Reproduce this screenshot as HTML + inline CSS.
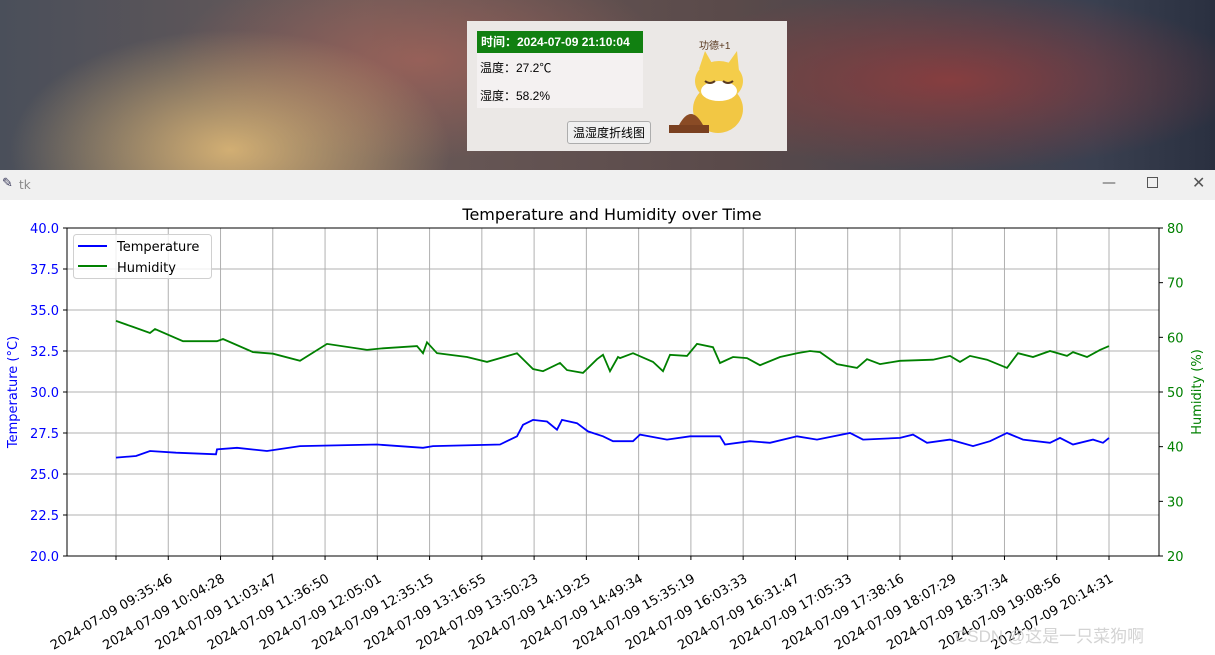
<!DOCTYPE html>
<html><head><meta charset="utf-8"><style>
body{margin:0;width:1215px;height:655px;overflow:hidden;position:relative;font-family:"DejaVu Sans","Liberation Sans","Noto Sans CJK SC",sans-serif;background:#fff}
#bg{position:absolute;left:0;top:0;width:1215px;height:170px;background:
radial-gradient(ellipse 220px 120px at 230px 150px,rgba(230,190,120,.85),transparent),
radial-gradient(ellipse 300px 90px at 950px 80px,rgba(150,60,60,.8),transparent),
radial-gradient(ellipse 250px 100px at 420px 60px,rgba(170,100,90,.7),transparent),
linear-gradient(90deg,#4a4f5a,#6a5a58 30%,#5a4a4a 60%,#3a4050 90%,#2a3040)}
#widget{position:absolute;left:467px;top:21px;width:320px;height:130px;background:#ebe8e6}
#tb{position:absolute;left:0;top:170px;width:1215px;height:30px;background:#f0f0f0}
</style></head><body>
<div id="bg"></div>
<div id="widget">
 <div style="position:absolute;left:10px;top:10px;width:166px;height:77px;background:#f4f1f1"></div>
 <div style="position:absolute;left:10px;top:10px;width:166px;height:22px;background:#118011;color:#fff;font-weight:bold;font-size:12px;line-height:22px;padding-left:4px;box-sizing:border-box;font-family:'Liberation Sans','Noto Sans CJK SC',sans-serif">时间：2024-07-09 21:10:04</div>
 <div style="position:absolute;left:13px;top:38px;font-size:12px;font-family:'Liberation Sans','Noto Sans CJK SC',sans-serif">温度：27.2℃</div>
 <div style="position:absolute;left:13px;top:66px;font-size:12px;font-family:'Liberation Sans','Noto Sans CJK SC',sans-serif">湿度：58.2%</div>
 <div style="position:absolute;left:100px;top:100px;width:84px;height:23px;border:1px solid #adadad;border-radius:3px;background:#f0f0f0;font-size:12px;line-height:23px;text-align:center;box-sizing:border-box;font-family:'Liberation Sans','Noto Sans CJK SC',sans-serif">温湿度折线图</div>
 <div style="position:absolute;left:232px;top:16px;font-size:10px;color:#5a3a20;font-family:'Liberation Sans','Noto Sans CJK SC',sans-serif">功德+1</div>
 <svg style="position:absolute;left:196px;top:28px" width="90" height="86">
  <ellipse cx="55" cy="60" rx="25" ry="24" fill="#f2c744"/>
  <ellipse cx="56" cy="32" rx="24" ry="20" fill="#f4cd4a"/>
  <polygon points="36,20 42,2 50,16" fill="#f4cd4a"/><polygon points="64,16 74,2 76,22" fill="#f4cd4a"/>
  <ellipse cx="56" cy="42" rx="18" ry="10" fill="#fff"/>
  <path d="M42 32 q5 4 10 0 M60 32 q5 4 10 0" stroke="#5a3a20" fill="none" stroke-width="2"/>
  <path d="M16 76 q12 -22 24 0 z" fill="#8a4b25"/><rect x="6" y="76" width="40" height="8" fill="#7a4020"/>
 </svg>
</div>
<div id="tb">
 <span style="position:absolute;left:2px;top:6px;font-size:13px;color:#335">✎</span>
 <span style="position:absolute;left:19px;top:8px;font-size:12px;color:#888">tk</span>
 <span style="position:absolute;left:1102px;top:5px;font-size:14px;color:#555">—</span>
 <span style="position:absolute;left:1147px;top:7px;width:9px;height:9px;border:1px solid #555"></span>
 <span style="position:absolute;left:1192px;top:3px;font-size:16px;color:#555">✕</span>
</div>
<svg id="chart" style="position:absolute;left:0;top:0" width="1215" height="655"></svg>
<div style="position:absolute;left:955px;top:622px;font-size:17px;color:rgba(200,200,200,.8);font-family:'Liberation Sans','Noto Sans CJK SC',sans-serif">CSDN @这是一只菜狗啊</div>
<script>
const tickLabels=["2024-07-09 09:35:46","2024-07-09 10:04:28","2024-07-09 11:03:47","2024-07-09 11:36:50","2024-07-09 12:05:01","2024-07-09 12:35:15","2024-07-09 13:16:55","2024-07-09 13:50:23","2024-07-09 14:19:25","2024-07-09 14:49:34","2024-07-09 15:35:19","2024-07-09 16:03:33","2024-07-09 16:31:47","2024-07-09 17:05:33","2024-07-09 17:38:16","2024-07-09 18:07:29","2024-07-09 18:37:34","2024-07-09 19:08:56","2024-07-09 20:14:31"];
const leftTicks=[20.0,22.5,25.0,27.5,30.0,32.5,35.0,37.5,40.0];
const rightTicks=[20,30,40,50,60,70,80];
const tempIdx=[0,20,34,60,100,101,121,151,184,261,307,317,384,401,407,417,431,441,446,461,472,487,497,517,524,551,574,604,609,634,654,681,701,734,747,784,797,811,834,857,874,891,907,934,944,957,977,987,993];
const tempVal=[26.0,26.1,26.4,26.3,26.2,26.5,26.6,26.4,26.7,26.8,26.6,26.7,26.8,27.3,28.0,28.3,28.2,27.7,28.3,28.1,27.6,27.3,27.0,27.0,27.4,27.1,27.3,27.3,26.8,27.0,26.9,27.3,27.1,27.5,27.1,27.2,27.4,26.9,27.1,26.7,27.0,27.5,27.1,26.9,27.2,26.8,27.1,26.9,27.2];
const humIdx=[0,17,34,39,67,101,107,137,157,184,211,251,267,301,307,311,321,351,371,401,417,427,444,451,467,481,487,494,502,504,517,537,547,554,571,581,597,604,617,631,644,664,681,694,704,721,741,751,764,784,817,834,844,854,871,891,902,917,934,951,957,971,984,993];
const humVal=[63.0,61.9,60.8,61.5,59.3,59.3,59.7,57.3,57.0,55.7,58.8,57.7,58.0,58.4,57.1,59.1,57.1,56.4,55.5,57.1,54.2,53.8,55.3,54.0,53.5,56.0,56.8,53.8,56.4,56.2,57.1,55.5,53.8,56.8,56.6,58.8,58.2,55.3,56.4,56.2,54.9,56.4,57.1,57.5,57.3,55.1,54.4,56.0,55.1,55.7,55.9,56.6,55.5,56.6,55.9,54.4,57.1,56.4,57.5,56.6,57.3,56.4,57.7,58.4];
const svg=document.getElementById('chart');const NS='http://www.w3.org/2000/svg';
const L=67,R=1159,T=228,B=556,X0=116,X1=1109,NMAX=993;
const NT=tickLabels.length+1;
const xIdx=i=>X0+(X1-X0)*i/NMAX;
const xTick=i=>X0+(X1-X0)*i/(NT-1);
const yL=v=>B-(v-20)/20*(B-T);
const yR=v=>B-(v-20)/60*(B-T);
function mk(t,a,txt){const e=document.createElementNS(NS,t);for(const k in a)e.setAttribute(k,a[k]);if(txt!==undefined)e.textContent=txt;svg.appendChild(e);return e;}
let e;
e=mk('text',{x:612,y:220,'text-anchor':'middle','font-size':16,fill:'#000'},'Temperature and Humidity over Time');


for(let i=0;i<NT;i++){const x=xTick(i);
 e=mk('line',{x1:x,x2:x,y1:T,y2:B,stroke:'#b0b0b0','stroke-width':1});
 
 
 e=mk('line',{x1:x,x2:x,y1:B,y2:B+4,stroke:'#000'});
 
 
}
tickLabels.forEach((t,i)=>{const x=xTick(i+1)+5,y=581;
 e=mk('text',{x:x,y:y,'text-anchor':'end','font-size':13,fill:'#000',transform:`rotate(-30 ${x} ${y})`},t);
 
 
});
leftTicks.forEach(v=>{const y=yL(v);
 e=mk('line',{x1:L,x2:R,y1:y,y2:y,stroke:'#b0b0b0','stroke-width':1});
 
 
 e=mk('line',{x1:L-4,x2:L,y1:y,y2:y,stroke:'#000'});
 
 
 e=mk('text',{x:L-8,y:y+5,'text-anchor':'end','font-size':13,fill:'#0000ff'},v.toFixed(1));
 
 
});
rightTicks.forEach(v=>{const y=yR(v);
 e=mk('line',{x1:R,x2:R+4,y1:y,y2:y,stroke:'#000'});
 
 
 e=mk('text',{x:R+8,y:y+5,'font-size':13,fill:'#008000'},String(v));
 
 
});
e=mk('text',{x:17,y:392,'text-anchor':'middle','font-size':13,fill:'#0000ff',transform:'rotate(-90 17 392)'},'Temperature (°C)');


e=mk('text',{x:1201,y:392,'text-anchor':'middle','font-size':13,fill:'#008000',transform:'rotate(-90 1201 392)'},'Humidity (%)');


function path(ix,vals,yf){let d='';ix.forEach((i,k)=>{d+=(k?'L':'M')+xIdx(i).toFixed(1)+' '+yf(vals[k]).toFixed(1);});return d;}
e=mk('path',{d:path(tempIdx,tempVal,yL),fill:'none',stroke:'#0000ff','stroke-width':1.8});


e=mk('path',{d:path(humIdx,humVal,yR),fill:'none',stroke:'#008000','stroke-width':1.8});


e=mk('rect',{x:L,y:T,width:R-L,height:B-T,fill:'none',stroke:'#000','stroke-width':1});


e=mk('rect',{x:73.5,y:234.5,width:138,height:44,rx:3,fill:'rgba(255,255,255,0.8)',stroke:'#d0d0d0'});


e=mk('line',{x1:78,x2:107,y1:246,y2:246,stroke:'#0000ff','stroke-width':2});


e=mk('text',{x:117,y:251,'font-size':13,fill:'#000'},'Temperature');


e=mk('line',{x1:78,x2:107,y1:266,y2:266,stroke:'#008000','stroke-width':2});


e=mk('text',{x:117,y:272,'font-size':13,fill:'#000'},'Humidity');


</script>
</body></html>
